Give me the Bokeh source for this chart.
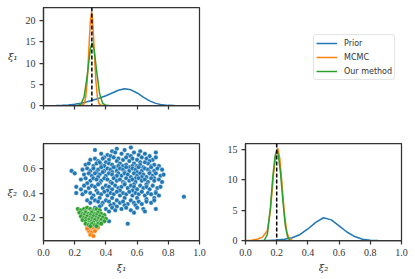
from bokeh.plotting import figure
from bokeh.layouts import row, column
from bokeh.models import Span, Legend, LegendItem, Range1d, FixedTicker, PrintfTickFormatter, Spacer
from bokeh.embed import file_html
from bokeh.resources import INLINE

# ---------------- data ----------------
series_names = ["Prior", "MCMC", "Our method"]
colors = ["#1f77b4", "#ff7f0e", "#2ca02c"]
true_values = [0.31, 0.20]

# marginal densities of xi_1
prior_x1 = [0.08, 0.12, 0.16, 0.20, 0.24, 0.28, 0.32, 0.36, 0.40, 0.44, 0.48, 0.52, 0.56, 0.60, 0.64, 0.68, 0.72, 0.76, 0.80, 0.84]
prior_d1 = [0.0, 0.03, 0.12, 0.3, 0.55, 0.9, 1.3, 1.75, 2.3, 2.95, 3.6, 3.97, 3.7, 2.95, 2.0, 1.1, 0.5, 0.15, 0.03, 0.0]
mcmc_x1 = [0.24, 0.26, 0.27, 0.28, 0.29, 0.30, 0.308, 0.315, 0.325, 0.335, 0.345, 0.355, 0.37, 0.39]
mcmc_d1 = [0.0, 0.41, 1.8, 5.6, 12.6, 19.7, 22.0, 20.2, 13.3, 6.2, 2.1, 0.5, 0.03, 0.0]
ours_x1 = [0.22, 0.24, 0.26, 0.28, 0.30, 0.312, 0.325, 0.34, 0.36, 0.38, 0.40, 0.42]
ours_d1 = [0.03, 0.32, 2.0, 6.9, 13.3, 14.8, 13.1, 8.3, 2.7, 0.48, 0.05, 0.0]

# marginal densities of xi_2
prior_x2 = [0.10, 0.15, 0.20, 0.25, 0.30, 0.35, 0.40, 0.45, 0.50, 0.55, 0.60, 0.65, 0.70, 0.75, 0.80, 0.85]
prior_d2 = [0.0, 0.02, 0.08, 0.2, 0.45, 1.0, 1.9, 3.0, 3.75, 3.4, 2.4, 1.4, 0.65, 0.22, 0.05, 0.0]
mcmc_x2 = [0.00, 0.04, 0.08, 0.11, 0.14, 0.16, 0.18, 0.195, 0.207, 0.22, 0.235, 0.25, 0.265, 0.28, 0.30]
mcmc_d2 = [0.0, 0.05, 0.25, 0.6, 1.6, 5.0, 11.0, 14.3, 15.2, 13.5, 9.0, 4.2, 1.4, 0.3, 0.0]
ours_x2 = [0.12, 0.14, 0.16, 0.175, 0.19, 0.20, 0.21, 0.225, 0.24, 0.255, 0.27, 0.285]
ours_d2 = [0.0, 1.0, 5.5, 10.5, 14.0, 14.8, 14.2, 11.0, 6.5, 2.5, 0.6, 0.0]

# joint samples (hundredths)
prior_pts = [
    (33,75),(47,76),(56,77),(62,74),(72,73),(44,74),(52,75),
    (37,72),(41,71),(46,73),(50,72),(54,71),(58,73),(61,71),(65,72),(68,70),(43,70),(56,70),(39,69),
    (30,67),(33,68),(35,66),(38,68),(42,67),(45,69),(48,68),(51,67),(53,69),(57,68),(60,67),(63,69),(66,68),(70,67),(72,69),(40,65),(47,66),(55,66),(62,65),(68,66),
    (27,63),(29,64),(32,62),(34,64),(37,63),(39,62),(42,64),(44,63),(46,61),(49,64),(51,62),(53,63),(55,61),(58,64),(60,62),(62,63),(64,61),(67,64),(69,62),(71,63),(74,62),(36,65),(57,62),(65,65),(48,62),
    (25,59),(28,60),(30,58),(32,60),(35,59),(37,61),(39,58),(41,60),(43,59),(45,61),(47,58),(49,60),(51,59),(53,61),(55,58),(57,60),(59,59),(61,61),(63,58),(65,60),(67,59),(69,61),(71,58),(73,60),(76,59),(44,57),(52,57),(60,57),(34,57),(68,57),
    (18,58),(20,56),(26,55),(29,56),(31,54),(33,56),(36,55),(38,57),(40,54),(42,56),(44,55),(46,53),(48,56),(50,54),(52,56),(54,55),(56,53),(58,56),(60,54),(62,56),(64,55),(66,53),(68,56),(70,54),(72,56),(75,54),(77,55),(35,53),(47,54),(59,52),(63,53),(71,52),
    (24,51),(27,52),(30,50),(32,52),(34,51),(37,50),(39,52),(41,51),(43,49),(45,52),(47,50),(49,51),(51,49),(53,52),(55,50),(57,51),(59,49),(61,52),(63,50),(65,51),(67,49),(69,52),(71,50),(74,51),(76,49),(36,48),(44,48),(52,48),(58,47),(66,47),(28,48),
    (21,45),(26,46),(29,44),(31,46),(33,45),(35,47),(38,44),(40,46),(42,45),(44,43),(46,46),(48,44),(50,45),(52,47),(54,44),(56,46),(58,45),(60,43),(62,46),(64,44),(66,45),(68,43),(70,46),(73,44),(75,45),(34,42),(41,42),(49,42),(57,42),(63,41),(72,41),(24,43),
    (21,40),(25,39),(27,41),(30,40),(32,38),(35,40),(37,39),(39,41),(41,38),(43,40),(45,39),(47,41),(49,38),(51,40),(53,39),(55,41),(57,38),(59,40),(61,39),(63,41),(65,38),(67,40),(69,39),(72,40),(74,38),(31,36),(36,36),(44,36),(52,36),(60,36),(66,35),(71,36),
    (28,34),(30,32),(33,34),(35,33),(38,32),(40,34),(42,33),(45,31),(47,34),(49,32),(51,33),(54,31),(56,34),(58,32),(61,33),(63,31),(66,33),(69,32),(71,34),(37,30),(43,30),(52,30),(59,30),
    (33,28),(36,29),(40,27),(44,28),(47,29),(50,27),(53,28),(56,26),(60,28),(64,27),(72,27),(65,25),(58,24),(46,26),(42,25),
    (90,37),(54,15),(42,17),
]
mcmc_pts = [
    (30,20),(31,22),(29,19),(32,18),(31,16),(33,21),(30,24),(32,15),
    (28,13),(30,11),(32,12),(34,11),(29,9),(31,8),(33,9),(30,6),(32,5),(35,12),(28,11),
]
ours_pts = [
    (22,27),(24,26),(26,27),(28,28),(30,27),(32,26),(34,27),(36,26),(27,25),(31,25),
    (23,24),(25,23),(27,24),(29,23),(31,24),(33,23),(35,24),(37,23),(39,22),(26,22),(30,22),(34,22),
    (24,21),(26,20),(28,21),(30,20),(32,21),(34,20),(36,21),(38,20),(40,19),(27,19),(31,19),(35,19),(29,18),
    (25,18),(27,17),(29,16),(31,17),(33,18),(35,17),(37,18),(39,17),(32,16),(36,16),(28,15),
    (27,15),(29,14),(31,15),(33,14),(35,15),(30,13),(34,13),(37,15),
]

unit_ticks = [0.0, 0.2, 0.4, 0.6, 0.8, 1.0]
ticks_d1 = [0, 5, 10, 15, 20]
ticks_d2 = [0, 5, 10, 15]
ticks_joint_y = [0.2, 0.4, 0.6]

INK = "#333333"


def style(p):
    p.outline_line_color = INK
    p.outline_line_width = 1.25
    p.outline_line_alpha = 1.0
    p.grid.visible = False
    p.background_fill_color = "white"
    p.border_fill_color = "white"
    for ax in p.axis:
        ax.axis_line_color = INK
        ax.axis_line_width = 1.25
        ax.major_tick_line_color = INK
        ax.major_tick_line_width = 1.25
        ax.major_tick_out = 4
        ax.major_tick_in = 0
        ax.minor_tick_line_color = None
        ax.major_label_text_font = "Liberation Serif"
        ax.major_label_text_font_size = "10px"
        ax.major_label_text_color = INK
        ax.major_label_standoff = 4
        ax.axis_label_text_font = "DejaVu Serif"
        ax.axis_label_text_font_style = "italic"
        ax.axis_label_text_font_size = "10px"
        ax.axis_label_text_color = INK


# ---------- top-left: xi_1 marginal ----------
tl = figure(frame_width=156, frame_height=98, min_border_left=43, min_border_right=8,
            min_border_top=7, min_border_bottom=20,
            x_range=Range1d(0, 1), y_range=Range1d(0, 23.1),
            output_backend="svg", toolbar_location=None)
tl.line(prior_x1, prior_d1, color=colors[0], line_width=1.5)
tl.line(mcmc_x1, mcmc_d1, color=colors[1], line_width=1.5)
tl.line(ours_x1, ours_d1, color=colors[2], line_width=1.5)
tl.add_layout(Span(location=true_values[0], dimension="height", line_color="black",
                   line_dash="4 2", line_width=1.5))
style(tl)
tl.xaxis.ticker = FixedTicker(ticks=unit_ticks)
tl.xaxis.major_label_overrides = {t: "" for t in unit_ticks}
tl.xaxis.major_label_standoff = 0
tl.yaxis.ticker = FixedTicker(ticks=ticks_d1)
tl.yaxis.axis_label = "ξ₁"
tl.yaxis.axis_label_orientation = "horizontal"
tl.yaxis.axis_label_standoff = 5

# ---------- legend panel (small figure whose frame holds the legend) ----------
# its line renderers carry the xi_1 curves but its y range is far above them,
# so only their legend glyphs are seen
lg = figure(frame_width=92, frame_height=50, min_border=0,
            x_range=Range1d(0, 1), y_range=Range1d(100, 101),
            x_axis_location=None, y_axis_location=None,
            output_backend="svg", toolbar_location=None)
lg.outline_line_color = None
lg.grid.visible = False
lg.background_fill_alpha = 0
lg.border_fill_alpha = 0
leg_items = []
for name, c, xs, ys in zip(series_names, colors, [prior_x1, mcmc_x1, ours_x1], [prior_d1, mcmc_d1, ours_d1]):
    r = lg.line(xs, ys, color=c, line_width=1.5)
    leg_items.append(LegendItem(label=name, renderers=[r]))
legend = Legend(items=leg_items, location="top_left", margin=0, padding=2,
                glyph_width=21, glyph_height=12, label_height=12, label_standoff=7,
                spacing=2, label_text_font="DejaVu Sans", label_text_font_size="8px",
                label_text_color=INK, border_line_color="#cccccc", border_line_width=1,
                border_radius=3, background_fill_alpha=0.8)
lg.add_layout(legend)
legend_block = column(Spacer(width=10, height=34),
                      row(Spacer(width=106, height=10), lg, spacing=0), spacing=0)

# ---------- bottom-left: joint scatter ----------
bl = figure(frame_width=156, frame_height=97, min_border_left=43, min_border_right=8,
            min_border_top=18, min_border_bottom=39,
            x_range=Range1d(0, 1), y_range=Range1d(0.0135, 0.803),
            output_backend="svg", toolbar_location=None)
for pts, c in [(prior_pts, colors[0]), (mcmc_pts, colors[1]), (ours_pts, colors[2])]:
    bl.scatter([a / 100 for a, b in pts], [b / 100 for a, b in pts], size=4.6,
               fill_color=c, line_color="white", line_width=0.4)
style(bl)
bl.xaxis.ticker = FixedTicker(ticks=unit_ticks)
bl.xaxis.formatter = PrintfTickFormatter(format="%.1f")
bl.yaxis.ticker = FixedTicker(ticks=ticks_joint_y)
bl.yaxis.formatter = PrintfTickFormatter(format="%.1f")
bl.xaxis.axis_label = "ξ₁"
bl.xaxis.axis_label_standoff = 3
bl.yaxis.axis_label = "ξ₂"
bl.yaxis.axis_label_orientation = "horizontal"
bl.yaxis.axis_label_standoff = 3

# ---------- bottom-right: xi_2 marginal ----------
br = figure(frame_width=156, frame_height=97, min_border_left=38, min_border_right=14,
            min_border_top=18, min_border_bottom=39,
            x_range=Range1d(0, 1), y_range=Range1d(0, 16.0),
            output_backend="svg", toolbar_location=None)
br.line(prior_x2, prior_d2, color=colors[0], line_width=1.5)
br.line(mcmc_x2, mcmc_d2, color=colors[1], line_width=1.5)
br.line(ours_x2, ours_d2, color=colors[2], line_width=1.5)
br.add_layout(Span(location=true_values[1], dimension="height", line_color="black",
                   line_dash="4 2", line_width=1.5))
style(br)
br.xaxis.ticker = FixedTicker(ticks=unit_ticks)
br.xaxis.formatter = PrintfTickFormatter(format="%.1f")
br.yaxis.ticker = FixedTicker(ticks=ticks_d2)
br.xaxis.axis_label = "ξ₂"
br.xaxis.axis_label_standoff = 3

top_row = row(tl, legend_block, spacing=0)
bottom_row = row(bl, br, spacing=0)
page = column(top_row, bottom_row, spacing=0)

with open("out.html", "w") as f:
    f.write(file_html(page, INLINE))
